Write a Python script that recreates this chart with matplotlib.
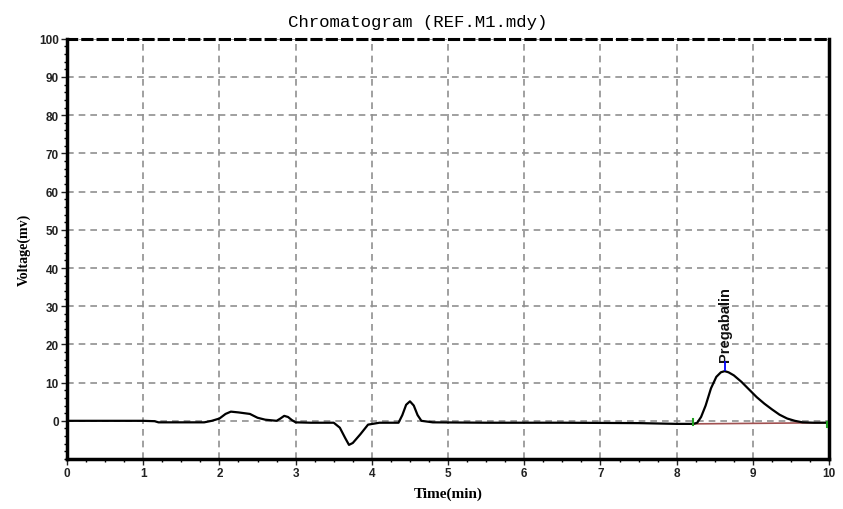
import matplotlib
matplotlib.use('Agg')
import matplotlib.pyplot as plt
from matplotlib.ticker import MultipleLocator

# chromatogram trace (time in min, signal in mV)
time_min = [0.0, 1.0, 1.15, 1.2, 1.5, 1.8, 1.9, 2.0, 2.08, 2.15, 2.25, 2.4, 2.5, 2.6,
            2.75, 2.8, 2.85, 2.9, 2.95, 3.0, 3.2, 3.5, 3.58, 3.65, 3.7, 3.75, 3.85, 3.95,
            4.1, 4.35, 4.4, 4.45, 4.5, 4.55, 4.6, 4.65, 4.8, 5.5, 6.5, 7.5, 8.0, 8.22,
            8.27, 8.32, 8.38, 8.45, 8.52, 8.58, 8.63, 8.68, 8.75, 8.85, 8.95, 9.05, 9.15,
            9.25, 9.35, 9.45, 9.55, 9.65, 9.8, 10.0]
voltage_mv = [0.0, 0.0, -0.1, -0.4, -0.4, -0.4, 0.0, 0.6, 1.8, 2.4, 2.2, 1.8, 0.8, 0.3,
              0.0, 0.6, 1.3, 1.0, 0.2, -0.4, -0.5, -0.5, -1.8, -4.5, -6.3, -5.8, -3.5, -1.0,
              -0.5, -0.5, 1.5, 4.2, 5.1, 4.0, 1.5, 0.0, -0.4, -0.5, -0.5, -0.6, -0.8, -0.8,
              -0.5, 1.0, 4.0, 8.5, 11.5, 12.7, 13.0, 12.7, 11.9, 10.2, 8.2, 6.2, 4.5,
              3.0, 1.6, 0.6, 0.0, -0.4, -0.5, -0.5]

# integration baseline of the Pregabalin peak
base_t = [8.22, 9.97]
base_v = [-0.8, -0.5]
peak_t = 8.63
peak_v = 13.0
peak_name = 'Pregabalin'

fig = plt.figure(figsize=(8.43, 5.1), dpi=100)
ax = fig.add_axes([0.0795, 0.098, 0.904, 0.824])

ax.plot(time_min, voltage_mv, color='black', lw=1.6, zorder=3)
ax.plot(base_t, base_v, color='#a05050', lw=1.2, zorder=2)
ax.plot([base_t[0], base_t[0]], [base_v[0] - 0.3, base_v[0] + 1.2], color='#20a020', lw=1.5, zorder=4)
ax.plot([base_t[1], base_t[1]], [base_v[1] - 1.2, base_v[1] + 0.3], color='#20a020', lw=1.5, zorder=4)
ax.plot([peak_t, peak_t], [peak_v + 0.3, peak_v + 2.3], color='blue', lw=1.3, zorder=4)
ax.text(peak_t, peak_v + 2.6, peak_name, rotation=90, ha='center', va='bottom',
        fontsize=10.5, fontweight='bold', family='Liberation Sans', color='#111111')

ax.set_xlim(0, 10)
ax.set_ylim(-10, 100)
ax.xaxis.set_major_locator(MultipleLocator(1))
ax.xaxis.set_minor_locator(MultipleLocator(0.25))
ax.set_yticks(range(0, 101, 10))
ax.yaxis.set_minor_locator(MultipleLocator(2))
ax.grid(True, which='major', color='#909090', ls=(0, (4, 3)), lw=1.2)

ax.tick_params(which='major', length=4, width=1, labelsize=8.5, colors='#222222', pad=2)
ax.tick_params(which='minor', length=2, width=1)
for lab in ax.get_xticklabels() + ax.get_yticklabels():
    lab.set_family('Liberation Sans')
    lab.set_fontweight('bold')

for side in ('left', 'bottom', 'right'):
    ax.spines[side].set_linewidth(2.5)
ax.spines['top'].set_linewidth(2.2)
ax.spines['top'].set_linestyle((0, (3, 2)))

ax.set_title('Chromatogram (REF.M1.mdy)', family='Liberation Mono', fontsize=12.5,
             x=0.46, pad=9)
ax.set_xlabel('Time(min)', family='Liberation Serif', fontsize=11, fontweight='bold', labelpad=5)
ax.set_ylabel('Voltage(mv)', family='Liberation Serif', fontsize=10, fontweight='bold', labelpad=6)

fig.savefig('out.png', dpi=100)
